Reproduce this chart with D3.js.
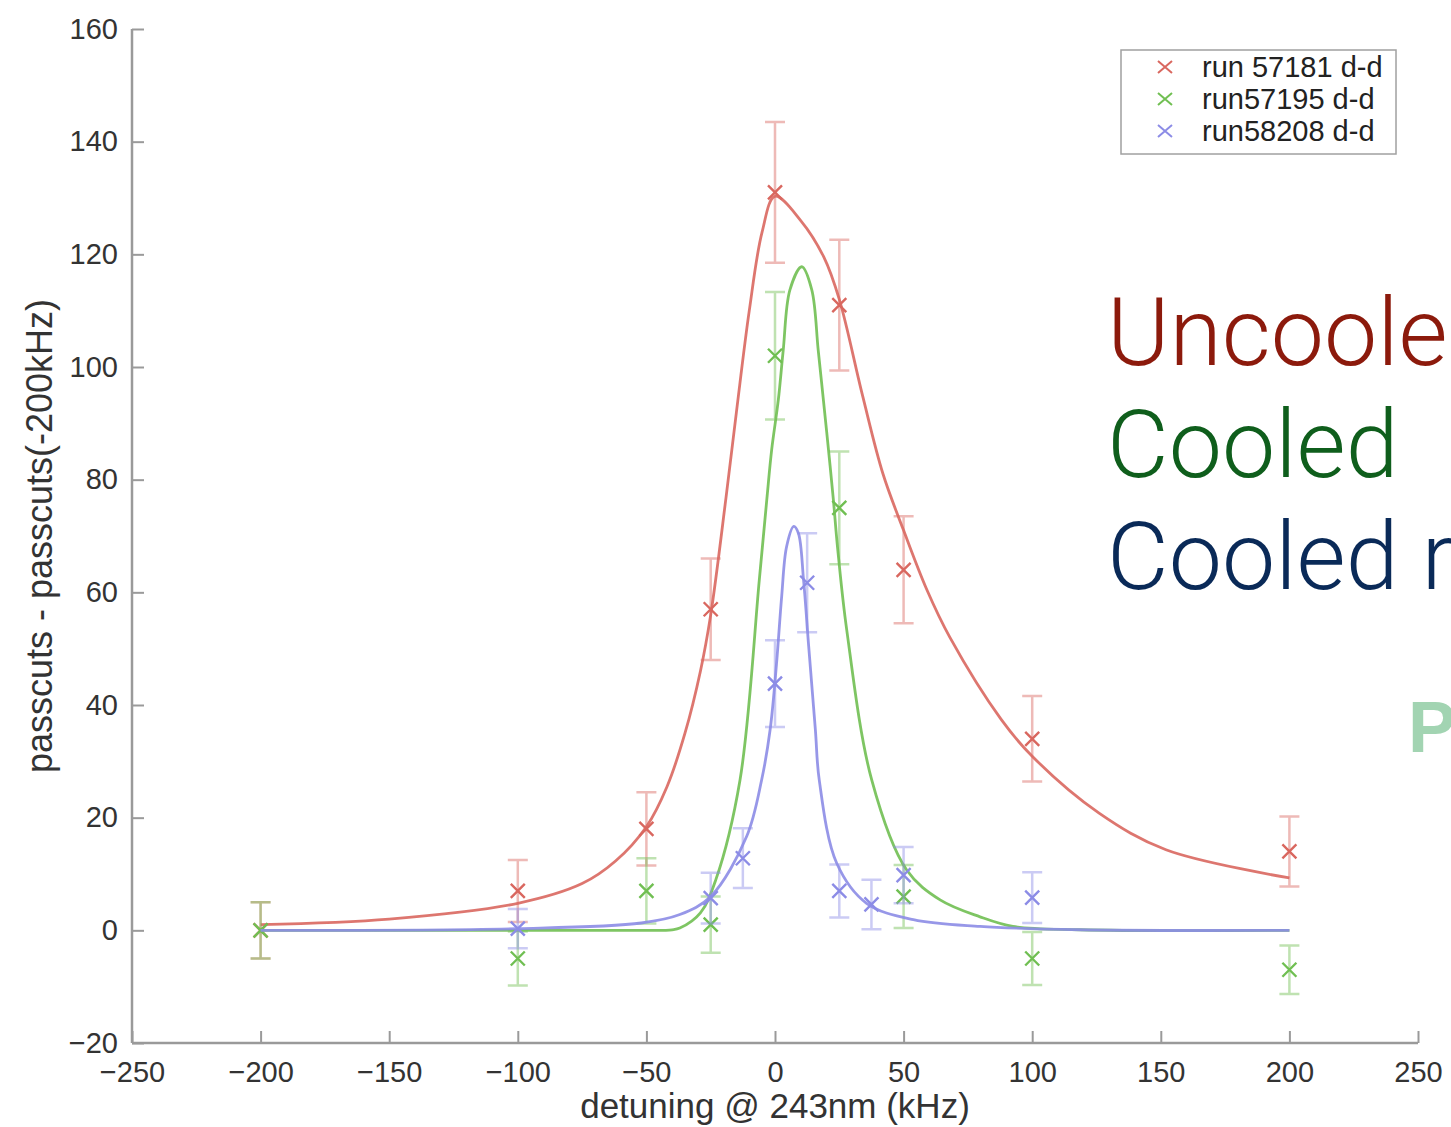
<!DOCTYPE html>
<html>
<head>
<meta charset="utf-8">
<script src="https://cdn.jsdelivr.net/npm/d3@7"></script>
<style>
  body { margin: 0; background: #fff; }
  svg { display: block; font-family: "Liberation Sans", Arial, sans-serif; }
</style>
</head>
<body>
<svg width="1451" height="1127"></svg>
<script>
// measured points (detuning kHz, counts, error)
var redX = [-200, -100, -50, -25, 0, 25, 50, 100, 200],
    redY = [0, 7, 18, 57, 131, 111, 64, 34, 14],
    redErr = [5, 5.5, 6.5, 9, 12.5, 11.6, 9.5, 7.6, 6.2];

var greenX = [-200, -100, -50, -25, 0, 25, 50, 100, 200],
    greenY = [0, -5, 7, 1, 102, 75, 6, -5, -7],
    greenErr = [5, 4.8, 5.8, 5, 11.3, 10, 5.6, 4.7, 4.3];

var blueX = [-100, -25, -12.5, 0, 12.5, 25, 37.5, 50, 100],
    blueY = [0.3, 5.7, 12.8, 43.8, 61.7, 7, 4.6, 9.8, 5.8],
    blueErr = [3.5, 4.5, 5.3, 7.7, 8.8, 4.7, 4.4, 5, 4.5];

// fitted curves
var redFitX = [-200, -150, -100, -75, -62, -50, -42, -35, -29, -25, -19, -15, -10, -5, 0, 10, 19, 25, 34, 42, 50, 59, 68, 88, 100, 126, 152, 200],
    redFitY = [1.0, 2.0, 4.8, 8.3, 12.3, 18.4, 25.5, 35, 46, 56, 77, 92, 110, 124, 130.3, 126, 119.5, 112, 95, 81, 71, 60.5, 52, 37.4, 30.9, 20.8, 14.3, 9.3];

var greenFitX = [-200, -100, -50, -40, -37, -29, -23, -13.6, -6.1, -3.2, -1.3, 1.3, 3.2, 5.8, 10.4, 14.3, 16.8, 18.8, 20.8, 22.7, 24.4, 27.9, 37.6, 51.2, 64.2, 79.7, 92.5, 118.6, 200],
    greenFitY = [0, 0, 0, 0.1, 0.4, 3.1, 9, 26.7, 62.2, 76.4, 85.3, 94.2, 103, 113.7, 117.8, 113.7, 103, 94.2, 85.3, 76.4, 67.6, 53.3, 26.7, 10.7, 5.4, 2.4, 0.7, 0.1, 0];

var blueFitX = [-200, -100, -52, -37, -25, -11, -5.2, -1.9, 0.6, 2.6, 4.5, 7.3, 9.1, 11.1, 13.1, 15.7, 17.2, 24, 35.6, 53.8, 79.7, 118.6, 200],
    blueFitY = [0, 0.3, 1.3, 2.8, 6, 16.7, 26.7, 35.6, 47.4, 59.3, 68.1, 71.7, 70.5, 62.2, 50.4, 35.6, 26.7, 11.9, 4.8, 1.9, 0.7, 0.1, 0];

var legendNames = ['run 57181 d-d', 'run57195 d-d', 'run58208 d-d'];
var colors = ['#d9675f', '#70bf52', '#8c8ce6'];

var xTicks = [-250, -200, -150, -100, -50, 0, 50, 100, 150, 200, 250],
    yTicks = [-20, 0, 20, 40, 60, 80, 100, 120, 140, 160];

var notes = [
  { text: 'Uncooled', color: '#8c1a0c' },
  { text: 'Cooled', color: '#0f5e1c' },
  { text: 'Cooled r', color: '#0a2a58' }
];

var svg = d3.select('svg');
var margin = { left: 132, top: 29 },
    width = 1286,
    height = 1014;

var x = d3.scaleLinear().domain([-250, 250]).range([0, width]);
var y = d3.scaleLinear().domain([-20, 160]).range([height, 0]);

var g = svg.append('g')
    .attr('transform', 'translate(' + margin.left + ',' + margin.top + ')');

// axes: ticks point inward like matlab
var xAxis = d3.axisBottom(x).tickValues(xTicks).tickSize(-12).tickPadding(18);
var yAxis = d3.axisLeft(y).tickValues(yTicks).tickSize(-12).tickPadding(14);

var gx = g.append('g')
    .attr('transform', 'translate(0,' + height + ')')
    .call(xAxis);
var gy = g.append('g').call(yAxis);

[gx, gy].forEach((ax) => {
  ax.select('.domain').attr('stroke', '#9a9a9a').attr('stroke-width', 2.5);
  ax.selectAll('.tick line').attr('stroke', '#9a9a9a').attr('stroke-width', 2);
  ax.selectAll('.tick text')
    .attr('fill', '#333')
    .style('font-size', '29px')
    .style('font-family', '"Liberation Sans", Arial, sans-serif');
});
gx.select('.domain').attr('d', 'M0,0H' + width);
gy.select('.domain').attr('d', 'M0,0V' + height);

// axis titles
g.append('text')
    .attr('x', x(0))
    .attr('y', height + 75)
    .attr('text-anchor', 'middle')
    .attr('fill', '#333')
    .style('font-size', '35px')
    .text('detuning @ 243nm (kHz)');

g.append('text')
    .attr('transform', 'translate(' + (-80) + ',' + (height / 2) + ') rotate(-90)')
    .attr('text-anchor', 'middle')
    .attr('fill', '#333')
    .style('font-size', '36px')
    .text('passcuts - passcuts(-200kHz)');

var series = [
  { xs: redX, ys: redY, errs: redErr, fx: redFitX, fy: redFitY, color: colors[0] },
  { xs: greenX, ys: greenY, errs: greenErr, fx: greenFitX, fy: greenFitY, color: colors[1] },
  { xs: blueX, ys: blueY, errs: blueErr, fx: blueFitX, fy: blueFitY, color: colors[2] }
];

var line = d3.line()
    .x((d) => x(d[0]))
    .y((d) => y(d[1]))
    .curve(d3.curveCatmullRom.alpha(0.5));

series.forEach((s) => {
  var pts = s.xs.map((v, i) => ({ x: v, y: s.ys[i], e: s.errs[i] }));

  // error bars
  var eb = g.append('g')
      .attr('stroke', s.color)
      .attr('stroke-opacity', 0.45)
      .attr('stroke-width', 2.5)
      .attr('fill', 'none');
  eb.selectAll('path')
    .data(pts)
    .enter()
    .append('path')
    .attr('d', (d) => {
      var cx = x(d.x), t = y(d.y + d.e), b = y(d.y - d.e);
      return 'M' + cx + ',' + t + 'V' + b +
        'M' + (cx - 10) + ',' + t + 'H' + (cx + 10) +
        'M' + (cx - 10) + ',' + b + 'H' + (cx + 10);
    });

  // fit curve
  g.append('path')
    .datum(s.fx.map((v, i) => [v, s.fy[i]]))
    .attr('d', line)
    .attr('fill', 'none')
    .attr('stroke', s.color)
    .attr('stroke-opacity', 0.9)
    .attr('stroke-width', 2.8);

  // x markers
  g.append('g')
    .selectAll('path')
    .data(pts)
    .enter()
    .append('path')
    .attr('d', (d) => {
      var cx = x(d.x), cy = y(d.y), r = 7;
      return 'M' + (cx - r) + ',' + (cy - r) + 'L' + (cx + r) + ',' + (cy + r) +
        'M' + (cx - r) + ',' + (cy + r) + 'L' + (cx + r) + ',' + (cy - r);
    })
    .attr('stroke', s.color)
    .attr('stroke-width', 2.4)
    .attr('fill', 'none');
});

// legend
var legend = svg.append('g').attr('transform', 'translate(1121,50)');
legend.append('rect')
    .attr('width', 275)
    .attr('height', 104)
    .attr('fill', '#fff')
    .attr('stroke', '#a0a0a0')
    .attr('stroke-width', 1.5);

var rows = legend.selectAll('g.row')
    .data(legendNames)
    .enter()
    .append('g')
    .attr('class', 'row')
    .attr('transform', (d, i) => 'translate(0,' + (17 + i * 32) + ')');

rows.append('path')
    .attr('d', 'M37,-6L51,6M37,6L51,-6')
    .attr('stroke', (d, i) => colors[i])
    .attr('stroke-width', 2)
    .attr('fill', 'none');

rows.append('text')
    .attr('x', 81)
    .attr('y', 10)
    .attr('fill', '#222')
    .style('font-size', '29px')
    .text((d) => d);

// big annotation on the right
svg.selectAll('text.note')
    .data(notes)
    .enter()
    .append('text')
    .attr('class', 'note')
    .attr('x', 1107)
    .attr('y', (d, i) => 365 + i * 112)
    .attr('fill', (d) => d.color)
    .style('font-family', 'Roboto, "Liberation Sans", sans-serif')
    .style('font-weight', 300)
    .style('font-size', '95px')
    .text((d) => d.text);

svg.append('text')
    .attr('x', 1408)
    .attr('y', 752)
    .attr('fill', '#a2d4b2')
    .style('font-size', '72px')
    .style('font-weight', 'bold')
    .text('P');
</script>
</body>
</html>
